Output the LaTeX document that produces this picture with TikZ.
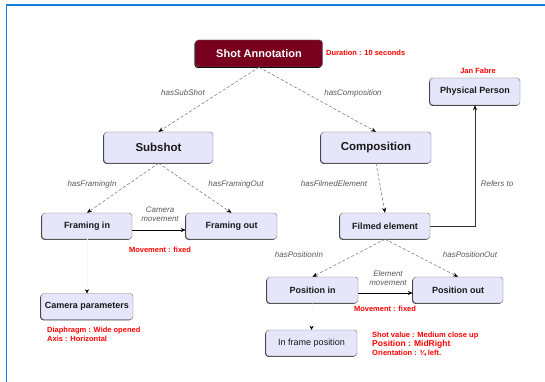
\documentclass[tikz,border=0pt]{standalone}
\usepackage{fontspec}
\setmainfont{Liberation Sans}
\usetikzlibrary{arrows.meta,shadows}
\definecolor{frameblue}{RGB}{20,125,215}
\definecolor{boxfill}{RGB}{230,230,250}
\definecolor{shotred}{RGB}{120,0,30}
\definecolor{edgegray}{RGB}{110,110,110}
\definecolor{notered}{RGB}{255,0,0}
\tikzset{
  classbox/.style={draw=black!55, line width=0.4pt, fill=boxfill, rounded corners=3pt,
    inner sep=0pt, font=\bfseries\fontsize{9}{10}\selectfont, text=black!90,
    drop shadow={shadow xshift=-0.8pt, shadow yshift=-0.8pt, fill=black!75, opacity=1}},
  rootbox/.style={classbox, fill=shotred, text=white, font=\bfseries\fontsize{11}{12}\selectfont,
    drop shadow={shadow xshift=-0.8pt, shadow yshift=-0.8pt, fill=black, opacity=1}},
  bigbox/.style={classbox, font=\bfseries\fontsize{11.5}{13}\selectfont},
  rel/.style={densely dashed, draw=edgegray, line width=0.5pt,
    -{Stealth[black,length=5pt,width=4pt]}},
  move/.style={draw=black, line width=0.6pt, -{Stealth[black,length=5pt,width=4pt]}},
  faint/.style={draw=black!3, line width=0.4pt, -{Stealth[black,length=4pt,width=4pt]}},
  rellabel/.style={font=\itshape\fontsize{8}{9}\selectfont, text=black!65, inner sep=1pt},
  note/.style={font=\bfseries\fontsize{7.5}{8.5}\selectfont, text=notered, inner sep=0pt, align=left},
}
\begin{document}
\begin{tikzpicture}[x=1pt,y=-1pt]
\useasboundingbox (0,0) rectangle (545,382);
\fill[white] (0,0) rectangle (545,382);
% outer frame
\draw[frameblue, line width=1.6pt] (6.5,382) -- (6.5,5) -- (545,5);

% classes
\node[rootbox, minimum width=127pt, minimum height=27pt] (shot) at (259,53.5) {Shot Annotation};
\node[classbox, minimum width=90pt, minimum height=27pt] (pp) at (475,91.5) {Physical Person};
\node[bigbox, minimum width=109pt, minimum height=31pt] (sub) at (158.5,147.5) {Subshot};
\node[bigbox, minimum width=110pt, minimum height=31pt] (comp) at (376,147.5) {Composition};
\node[classbox, minimum width=90pt, minimum height=26pt] (fin) at (87,226) {Framing in};
\node[classbox, minimum width=91pt, minimum height=26pt] (fout) at (231.5,226) {Framing out};
\node[classbox, minimum width=90pt, minimum height=26pt] (film) at (385,226) {Filmed element};
\node[classbox, minimum width=92pt, minimum height=26pt] (cam) at (87,306.5) {Camera parameters};
\node[classbox, minimum width=91pt, minimum height=26pt] (pin) at (312.5,290) {Position in};
\node[classbox, minimum width=90pt, minimum height=26pt] (pout) at (458,290) {Position out};
\node[classbox, minimum width=91pt, minimum height=26pt, font=\fontsize{9}{10}\selectfont] (ifp) at (311.5,343) {In frame position};

% relations
\draw[rel] (shot.south) -- (sub.north);
\draw[rel] (shot.south) -- (comp.north);
\draw[rel] (sub.south) -- (fin.north);
\draw[rel] (sub.south) -- (fout.north);
\draw[rel] (comp.south) -- (film.north);
\draw[rel] (film.south) -- (pin.north);
\draw[rel] (film.south) -- (pout.north);
\draw[move] ([yshift=-4pt]fin.east) -- ([yshift=-4pt]fout.west);
\draw[move] ([yshift=-3pt]pin.east) -- ([yshift=-3pt]pout.west);
\draw[draw=black!80, line width=0.6pt, -{Stealth[black,length=5pt,width=4pt]}] (film.east) -| (pp.south);
\draw[faint] (fin.south) -- (cam.north);
\draw[faint] (pin.south) -- (ifp.north);

% relation labels
\node[rellabel] (l1) at (183,93) {hasSubShot};
\node[rellabel] (l2) at (353,93) {hasComposition};
\node[rellabel] (l3) at (92,184) {hasFramingIn};
\node[rellabel] (l4) at (236,184) {hasFramingOut};
\node[rellabel] (l5) at (334,184) {hasFilmedElement};
\node[rellabel] (l6) at (497,184) {Refers to};
\node[rellabel] (l7) at (299,255) {hasPositionIn};
\node[rellabel] (l8) at (470,255) {hasPositionOut};
\node[rellabel, align=center] (l9) at (160,214) {Camera\\movement};
\node[rellabel, align=center] (l10) at (388,278) {Element\\movement};

% annotations
\node[note, anchor=west] (n1) at (326,53) {Duration : 10 seconds};
\node[note] (n2) at (478,71) {Jan Fabre};
\node[note] (n3) at (160,250) {Movement : fixed};
\node[note] (n4) at (385,309) {Movement : fixed};
\node[note, anchor=north west] (n5) at (47,327) {Diaphragm : Wide opened\\Axis : Horizontal};
\node[note, anchor=west] (n6) at (372,336) {Shot value : Medium close up};
\node[note, anchor=west, font=\bfseries\fontsize{8.5}{9.5}\selectfont] (n7) at (372,344) {Position : MidRight};
\node[note, anchor=west] (n8) at (372,353) {Orientation : ¾ left.};
\end{tikzpicture}
\end{document}
